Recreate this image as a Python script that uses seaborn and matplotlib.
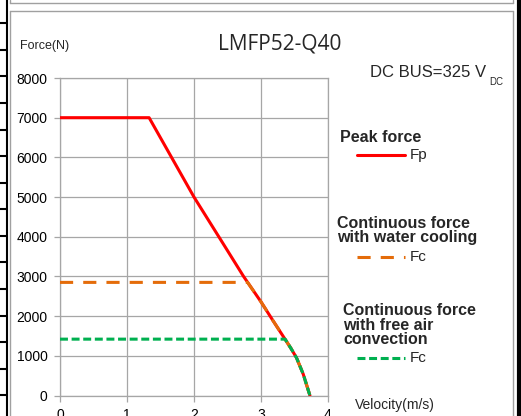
import matplotlib
matplotlib.use("Agg")
import matplotlib.pyplot as plt
from matplotlib.lines import Line2D
import seaborn as sns

# data
peak_v = [0, 1.33, 2.0, 2.5, 2.74, 3.0, 3.17, 3.36, 3.45, 3.53, 3.63, 3.73]
peak_f = [7000, 7000, 5000, 3650, 3000, 2360, 1910, 1416, 1180, 950, 540, 0]

water_v = [0, 2.8, 3.0, 3.17, 3.36, 3.45, 3.53, 3.63, 3.73]
water_f = [2850, 2850, 2360, 1910, 1416, 1180, 950, 540, 0]

air_v = [0, 3.36, 3.45, 3.53, 3.63, 3.73]
air_f = [1420, 1420, 1180, 950, 540, 0]

x_ticks = [0, 1, 2, 3, 4]
y_ticks = [0, 1000, 2000, 3000, 4000, 5000, 6000, 7000, 8000]

sns.set_style("white")
plt.rcParams['font.family'] = ['Liberation Sans', 'DejaVu Sans']

W, H = 521, 416
fig = plt.figure(figsize=(W / 100, H / 100), dpi=100)


def fx(x):
    return x / W


def fy(y):
    return 1 - y / H


ax = fig.add_axes([fx(60), fy(395.5), fx(328) - fx(60), fy(78) - fy(395.5)])

red = '#FF0000'
orange = '#E46C0A'
green = '#00B050'

sns.lineplot(x=peak_v, y=peak_f, ax=ax, color=red, lw=2.2, sort=False, zorder=3)
sns.lineplot(x=water_v, y=water_f, ax=ax, color=orange, lw=2.2, sort=False, zorder=4)
ax.lines[-1].set_dashes((4.3, 3.3))
sns.lineplot(x=air_v, y=air_f, ax=ax, color=green, lw=2.2, sort=False, zorder=5)
ax.lines[-1].set_dashes((2.6, 1.2))

ax.set_xlim(0, 4)
ax.set_ylim(0, 8000)
ax.set_xticks(x_ticks)
ax.set_yticks(y_ticks)
ax.set_xticklabels([str(t) for t in x_ticks])
ax.set_yticklabels([str(t) for t in y_ticks])
ax.grid(True, color='#A6A6A6', lw=0.9)
for s in ax.spines.values():
    s.set_color('#A6A6A6')
    s.set_linewidth(0.9)
ax.tick_params(axis='both', colors='#A6A6A6', labelcolor='black', labelsize=10,
               length=4, width=0.9, direction='out', left=True, bottom=True)
ax.tick_params(axis='y', pad=5)
ax.tick_params(axis='x', pad=5)
ax.set_xlabel('')
ax.set_ylabel('')

# texts
fig.text(fx(20), fy(46), 'Force(N)', fontsize=9, va='center', ha='left')
fig.text(fx(280), fy(44), 'LMFP52-Q40', fontsize=15, va='center', ha='center',
         family=['Open Sans', 'DejaVu Sans'])
fig.text(fx(370), fy(77), 'DC BUS=325 V', fontsize=12, va='baseline', ha='left')
fig.text(fx(489), fy(85), 'DC', fontsize=7, va='baseline', ha='left')
fig.text(fx(355), fy(405), 'Velocity(m/s)', fontsize=10, va='center', ha='left')

fig.text(fx(340), fy(142), 'Peak force', fontsize=11.5, fontweight='bold',
         va='baseline', ha='left')
fig.add_artist(Line2D([fx(357), fx(405)], [fy(155), fy(155)], color=red, lw=2.2))
fig.text(fx(410), fy(155), 'Fp', fontsize=11, va='center', ha='left')

fig.text(fx(337), fy(242), 'Continuous force\nwith water cooling', fontsize=11.5,
         fontweight='bold', va='baseline', ha='left', linespacing=0.95)
fig.add_artist(Line2D([fx(357), fx(405)], [fy(257), fy(257)], color=orange, lw=2.2,
                      dashes=(4.3, 3.3)))
fig.text(fx(410), fy(257), 'Fc', fontsize=11, va='center', ha='left')

fig.text(fx(343), fy(344), 'Continuous force\nwith free air\nconvection', fontsize=11.5,
         fontweight='bold', va='baseline', ha='left', linespacing=0.95)
fig.add_artist(Line2D([fx(357), fx(405)], [fy(358), fy(358)], color=green, lw=2.2,
                      dashes=(2.6, 1.2)))
fig.text(fx(410), fy(358), 'Fc', fontsize=11, va='center', ha='left')

# page decoration around the chart
grey = '#A0A0A0'
fig.add_artist(Line2D([fx(10), fx(10)], [fy(11), fy(416)], color=grey, lw=1))
fig.add_artist(Line2D([fx(10), fx(513)], [fy(11), fy(11)], color=grey, lw=1))
fig.add_artist(Line2D([fx(513), fx(513)], [fy(11), fy(416)], color=grey, lw=1))
fig.add_artist(Line2D([fx(10), fx(513)], [fy(3), fy(3)], color=grey, lw=1))
fig.add_artist(Line2D([fx(10), fx(10)], [fy(0), fy(3)], color=grey, lw=1))
fig.add_artist(Line2D([fx(513), fx(513)], [fy(0), fy(3)], color=grey, lw=1))
fig.add_artist(Line2D([fx(7), fx(7)], [fy(0), fy(416)], color='black', lw=1.5))
fig.add_artist(Line2D([fx(518.5), fx(518.5)], [fy(0), fy(416)], color='black', lw=3))
for k in range(15):
    yy = 23.3 + 26.57 * k
    fig.add_artist(Line2D([fx(0), fx(7)], [fy(yy), fy(yy)], color='black', lw=1.5))

fig.savefig('out.png', dpi=100)
